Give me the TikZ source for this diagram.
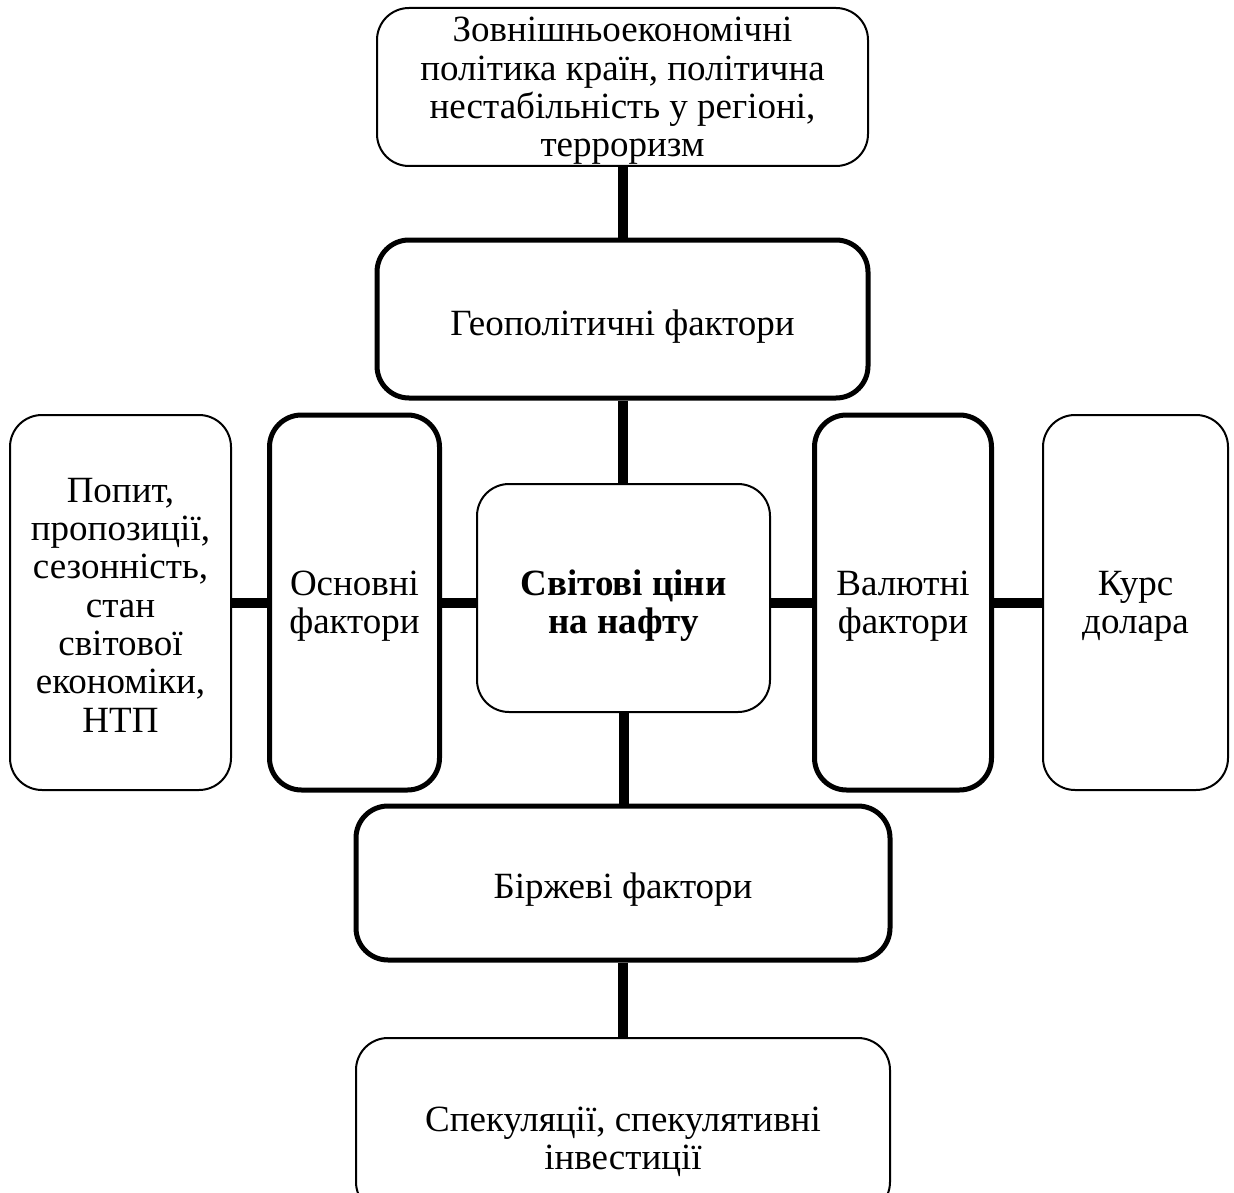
\documentclass[tikz,border=0pt]{standalone}
\usepackage{fontspec}
\setmainfont{Liberation Serif}
\begin{document}
\begin{tikzpicture}[x=1pt,y=-1pt,
  box/.style={draw=black,rounded corners=32pt,inner sep=0pt},
  thinbox/.style={box,line width=2pt},
  thickbox/.style={box,line width=5pt},
  txt/.style={align=center,inner sep=0pt,font=\fontsize{37}{38.3}\selectfont},
  conn/.style={line width=10pt,line cap=butt}]
\useasboundingbox (0,0) rectangle (1234,1193);
% boxes
\node[thinbox,minimum width=491pt,minimum height=158pt] (ext) at (622.5,87) {};
\node[txt] (exttext) at (622.5,91)
  {Зовнішньоекономічні\\політика країн, політична\\нестабільність у регіоні,\\терроризм};
\node[thickbox,minimum width=491pt,minimum height=158pt] (geo) at (622.5,319) {};
\node[txt] (geotext) at (622.5,327) {Геополітичні фактори};
\node[thinbox,minimum width=293pt,minimum height=228pt] (world) at (623.5,598) {};
\node[txt,font=\fontsize{37}{38.3}\selectfont\bfseries] (worldtext) at (623.5,606)
  {Світові ціни\\на нафту};
\node[thinbox,minimum width=221pt,minimum height=375pt] (demand) at (120.5,602.5) {};
\node[txt] (demandtext) at (120.5,605)
  {Попит,\\пропозиції,\\сезонність,\\стан\\світової\\економіки,\\НТП};
\node[thickbox,minimum width=170pt,minimum height=375pt] (basic) at (354.5,602.5) {};
\node[txt] (basictext) at (354.5,606) {Основні\\фактори};
\node[thickbox,minimum width=177pt,minimum height=375pt] (curr) at (903,602.5) {};
\node[txt] (currtext) at (903,606) {Валютні\\фактори};
\node[thinbox,minimum width=185pt,minimum height=375pt] (usd) at (1135.5,602.5) {};
\node[txt] (usdtext) at (1135.5,606) {Курс\\долара};
\node[thickbox,minimum width=534pt,minimum height=154pt] (exch) at (623,883) {};
\node[txt] (exchtext) at (623,890) {Біржеві фактори};
\node[thinbox,minimum width=534pt,minimum height=176pt] (spec) at (623,1126) {};
\node[txt] (spectext) at (623,1142) {Спекуляції, спекулятивні\\інвестиції};
% connectors
\draw[conn] (ext.south) -- (geo.north);
\draw[conn] (geo.south) -- (geo.south |- world.north);
\draw[conn] (world.south) -- (world.south |- exch.north);
\draw[conn] (exch.south) -- (exch.south |- spec.north);
\draw[conn] (demand.east) -- (basic.west);
\draw[conn] (basic.east) -- (basic.east -| world.west);
\draw[conn] (curr.west -| world.east) -- (curr.west);
\draw[conn] (curr.east) -- (usd.west);
\end{tikzpicture}
\end{document}
